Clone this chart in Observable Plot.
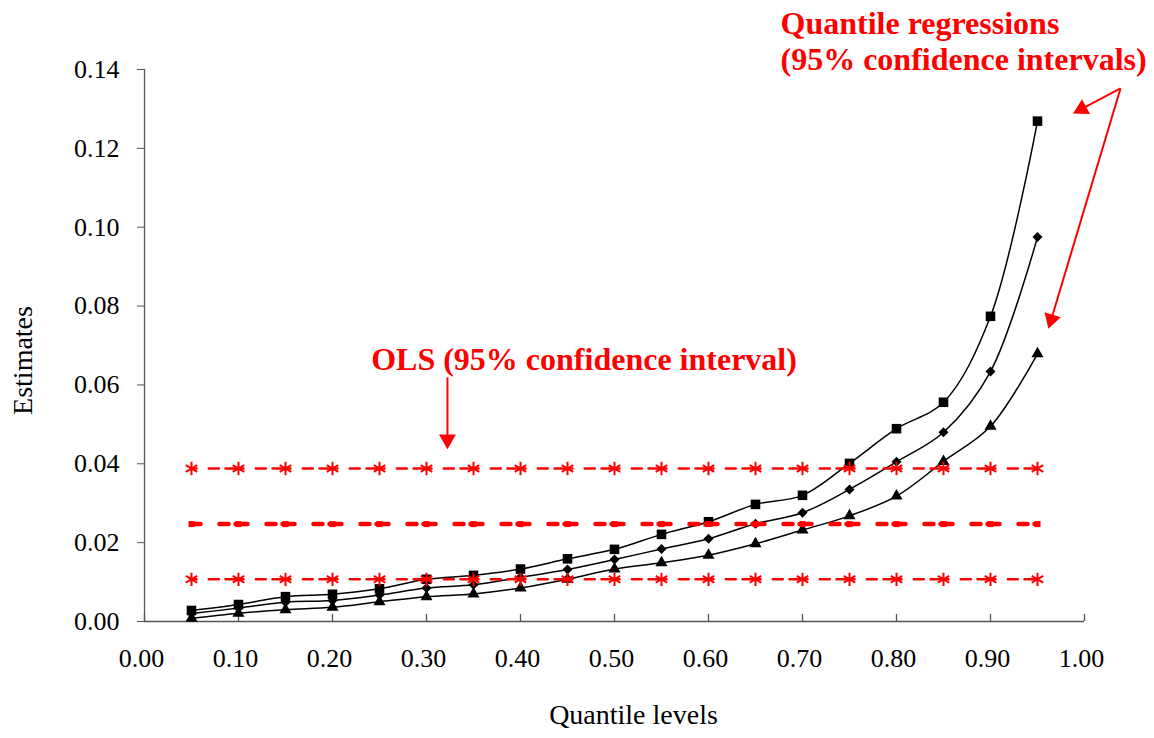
<!DOCTYPE html>
<html>
<head>
<meta charset="utf-8">
<script src="https://cdn.jsdelivr.net/npm/d3@7"></script>
<script src="https://cdn.jsdelivr.net/npm/@observablehq/plot@0.6"></script>
<style>
  html, body { margin: 0; padding: 0; background: #fff; }
</style>
</head>
<body>
<div id="chart"></div>
<script>
// ---- data ----
const quantiles = [0.05,0.10,0.15,0.20,0.25,0.30,0.35,0.40,0.45,0.50,0.55,0.60,0.65,0.70,0.75,0.80,0.85,0.90,0.95];
const qrUpper    = [0.0028,0.0043,0.0063,0.0069,0.0083,0.0107,0.0117,0.0133,0.0159,0.0183,0.0221,0.0253,0.0297,0.0320,0.0401,0.0489,0.0556,0.0774,0.1269];
const qrEstimate = [0.0020,0.0034,0.0049,0.0053,0.0067,0.0085,0.0093,0.0112,0.0132,0.0157,0.0184,0.0210,0.0248,0.0276,0.0335,0.0405,0.0480,0.0634,0.0975];
const qrLower    = [0.0008,0.0021,0.0030,0.0036,0.0050,0.0063,0.0070,0.0085,0.0107,0.0133,0.0149,0.0168,0.0197,0.0232,0.0268,0.0318,0.0406,0.0495,0.0679];
const olsUpper = 0.0388;
const olsEstimate = 0.0247;
const olsLower = 0.0107;

const xTicks = [0,0.1,0.2,0.3,0.4,0.5,0.6,0.7,0.8,0.9,1.0];
const yTicks = [0,0.02,0.04,0.06,0.08,0.10,0.12,0.14];

const xTitle = "Quantile levels";
const yTitle = "Estimates";
const olsLabel = "OLS (95% confidence interval)";
const qrLabelLines = ["Quantile regressions", "(95% confidence intervals)"];

// annotation anchors (data units)
const olsLabelPos = {x: 0.4676, y: 0.0665};
const qrLabelPos = [{x: 0.6766, y: 0.1515}, {x: 0.6766, y: 0.1424}];
const arrowShafts = [
  {x1: 0.3223, y1: 0.0619, x2: 0.3223, y2: 0.0462},
  {x1: 1.0383, y1: 0.1352, x2: 0.9970, y2: 0.1300},
  {x1: 1.0383, y1: 0.1352, x2: 0.9646, y2: 0.0766}
];
const arrowHeads = [
  {x: 0.3223, y: 0.0462, angle: 180},
  {x: 0.9970, y: 0.1300, angle: -118},
  {x: 0.9646, y: 0.0766, angle: 196.7}
];

// ---- tables ----
const toRows = (vals) => quantiles.map((q, i) => ({q, v: vals[i]}));
const upperRows = toRows(qrUpper);
const estRows = toRows(qrEstimate);
const lowerRows = toRows(qrLower);
const flat = (v) => quantiles.map(q => ({q, v}));
const olsUpRows = flat(olsUpper);
const olsEstRows = flat(olsEstimate);
const olsLowRows = flat(olsLower);

const serif = "'Liberation Serif', 'Times New Roman', Times, serif";
const RED = "#ff0000";

const blackCurve = {x: "q", y: "v", stroke: "#000", strokeWidth: 1.5, curve: "catmull-rom"};
const olsThin = {x: "q", y: "v", stroke: RED, strokeWidth: 2.5, strokeDasharray: "18,12.3,10,6.7", strokeDashoffset: 13};

const chart = Plot.plot({
  width: 1154,
  height: 738,
  marginLeft: 144,
  marginRight: 70,
  marginTop: 69,
  marginBottom: 117,
  style: {fontFamily: serif, fontSize: "26px", background: "#fff", color: "#000", overflow: "visible"},
  x: {domain: [0, 1]},
  y: {domain: [0, 0.14]},
  marks: [
    // axes
    Plot.ruleY([0], {x1: 0, x2: 1, stroke: "#555", strokeWidth: 1.3}),
    Plot.ruleX([0], {y1: 0, y2: 0.14, stroke: "#555", strokeWidth: 1.3}),
    Plot.ruleX(xTicks, {y1: 0, y2: 0.0018, stroke: "#555", strokeWidth: 1.3}),
    Plot.axisX(xTicks, {tickSize: 0, tickPadding: 27.5, tickFormat: d => d.toFixed(2), label: null, fontSize: 26, dx: -3}),
    Plot.axisY(yTicks, {tickSize: 7, tickPadding: 18, tickFormat: d => d.toFixed(2), label: null, fontSize: 26, stroke: "#555"}),
    Plot.text([xTitle], {x: 0.5202, y: -0.0236, fontSize: 28, fill: "#000"}),
    Plot.text([yTitle], {x: -0.1287, y: 0.0662, fontSize: 28, rotate: -90, fill: "#000"}),

    // quantile regression curves
    Plot.line(upperRows, blackCurve),
    Plot.line(estRows, blackCurve),
    Plot.line(lowerRows, blackCurve),
    Plot.dot(upperRows, {x: "q", y: "v", symbol: "square", r: 5.4, fill: "#000"}),
    Plot.dot(estRows, {x: "q", y: "v", symbol: "diamond2", r: 4.5, fill: "#000"}),
    Plot.dot(lowerRows, {x: "q", y: "v", symbol: "triangle", r: 4.5, fill: "#000"}),

    // OLS lines
    Plot.line(olsUpRows, olsThin),
    Plot.line(olsLowRows, olsThin),
    Plot.line(olsEstRows, {x: "q", y: "v", stroke: RED, strokeWidth: 4.5, strokeDasharray: "12,19,9,7", strokeDashoffset: 3}),
    Plot.dot(olsUpRows, {x: "q", y: "v", symbol: "asterisk", r: 6.3, stroke: RED, strokeWidth: 2}),
    Plot.dot(olsLowRows, {x: "q", y: "v", symbol: "asterisk", r: 6.3, stroke: RED, strokeWidth: 2}),
    Plot.dot(olsEstRows, {x: "q", y: "v", symbol: "square", r: 3.4, fill: RED}),

    // annotations
    Plot.text([olsLabel], {x: olsLabelPos.x, y: olsLabelPos.y, fontSize: 32, fontWeight: "bold", fill: RED}),
    Plot.text(qrLabelLines, {x: (d, i) => qrLabelPos[i].x, y: (d, i) => qrLabelPos[i].y, text: d => d, textAnchor: "start", fontSize: 32, fontWeight: "bold", fill: RED}),
    Plot.link(arrowShafts, {x1: "x1", y1: "y1", x2: "x2", y2: "y2", stroke: RED, strokeWidth: 2}),
    Plot.dot(arrowHeads, {x: "x", y: "y", rotate: "angle", symbol: "triangle", r: 6.3, fill: RED})
  ]
});

document.getElementById("chart").appendChild(chart);
</script>
</body>
</html>
